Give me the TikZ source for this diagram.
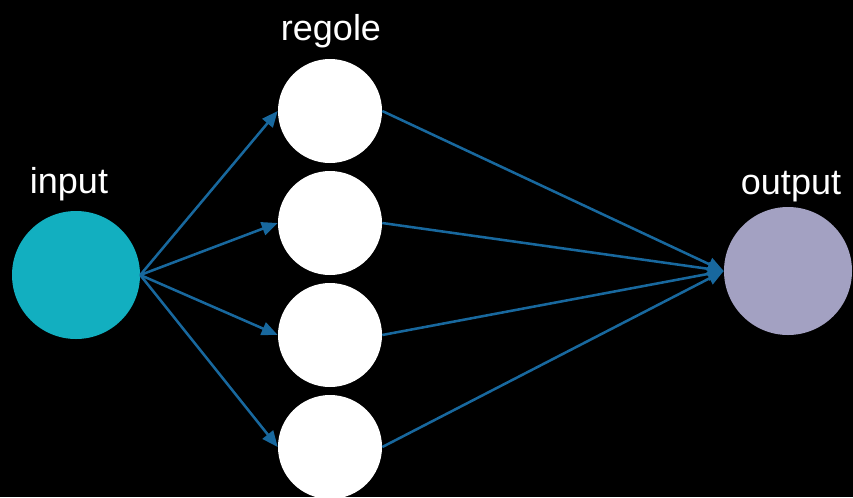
\documentclass[tikz,border=0pt]{standalone}
\usepackage{fontspec}
\setmainfont{Liberation Sans}
\usetikzlibrary{arrows.meta}
\definecolor{incol}{RGB}{18,175,192}
\definecolor{outcol}{RGB}{163,161,194}
\definecolor{linkcol}{RGB}{24,104,158}
\begin{document}
\begin{tikzpicture}[x=0.75pt,y=-0.75pt,
  neuron/.style={circle, inner sep=0pt, minimum size=78pt, fill=white},
  bigneuron/.style={circle, inner sep=0pt, minimum size=96pt},
  lbl/.style={anchor=base, white, font=\fontsize{27}{32}\selectfont},
  link/.style={linkcol, line width=1.9pt, -{Triangle[length=12pt,width=10pt]}}]
\path[use as bounding box, fill=black] (0,0) rectangle (853,497);
\clip (0,0) rectangle (853,497);
\node[bigneuron, fill=incol] (in) at (76,275) {};
\foreach \y [count=\i] in {111,223,335,447}
\node[neuron] (r\i) at (330,\y) {};
\node[bigneuron, fill=outcol] (out) at (788,271) {};
\node[lbl] (tin) at (69,193) {input};
\node[lbl] (treg) at (331,40) {regole};
\node[lbl] (tout) at (791,194) {output};
\foreach \i in {1,...,4} {
\draw[link] (in.east) -- (r\i.west);
\draw[link] (r\i.east) -- (out.west);
}
\end{tikzpicture}
\end{document}
